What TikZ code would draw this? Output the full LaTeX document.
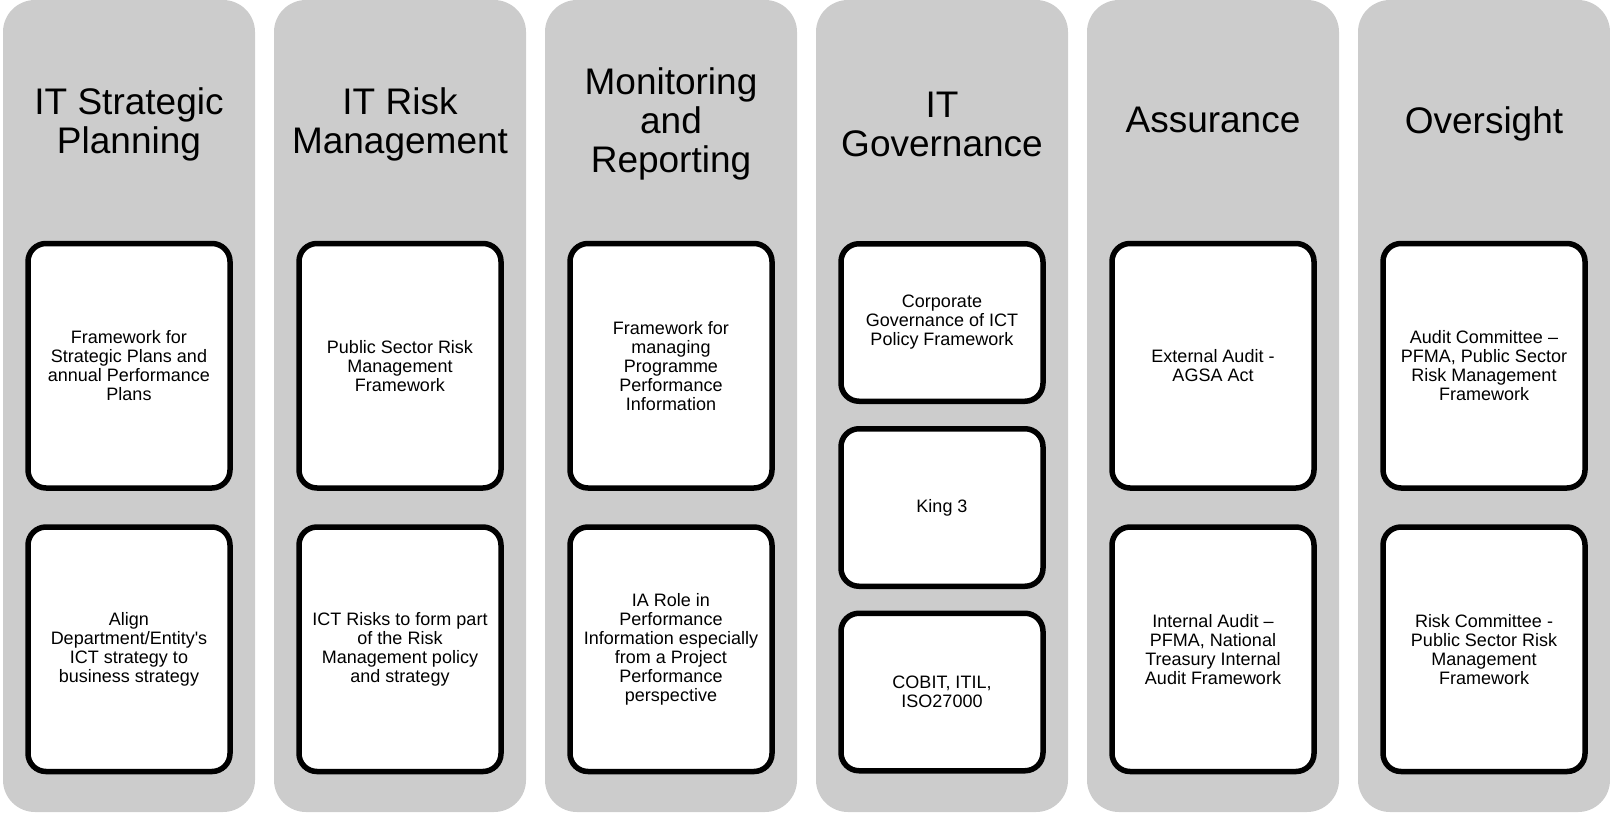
\documentclass[tikz,border=0pt]{standalone}
\usepackage{fontspec}
\setmainfont{Liberation Sans}
\definecolor{colgray}{HTML}{CCCCCC}
\begin{document}
\begin{tikzpicture}[x=1pt,y=-1pt,
  lane/.style={fill=colgray,draw=none,rounded corners=32pt,minimum width=252pt,minimum height=812pt,inner sep=0pt,outer sep=0pt,anchor=north west},
  card/.style={fill=white,draw=black,line width=5.5pt,rounded corners=18pt,minimum width=202pt,inner sep=2pt,align=center,font=\fontsize{18}{19}\selectfont},
  tall/.style={card,minimum height=244.5pt},
  short/.style={card,minimum height=157.5pt},
  head/.style={align=center,font=\fontsize{37}{39}\selectfont,inner sep=0pt}]
\useasboundingbox (0,0) rectangle (1610,812);
% lanes
\foreach \i/\n in {0/c1,1/c2,2/c3,3/c4,4/c5,5/c6}{
  \node[lane] (\n) at ({3+271*\i},0) {};
}
% titles
\node[head] (t1) at (c1.center |- 0,124) {IT Strategic\\Planning};
\node[head] (t2) at (c2.center |- 0,124) {IT Risk\\Management};
\node[head] (t3) at (c3.center |- 0,124) {Monitoring\\and\\Reporting};
\node[head] (t4) at (c4.center |- 0,124) {IT\\Governance};
\node[head] (t5) at (c5.center |- 0,120) {Assurance};
\node[head] (t6) at (c6.center |- 0,123.5) {Oversight};
% cards
\node[tall] (b11) at (c1.center |- 0,365.75) {Framework for\\Strategic Plans and\\annual Performance\\Plans};
\node[tall] (b12) at (c1.center |- 0,649.25) {Align\\Department/Entity\textquotesingle s\\ICT strategy to\\business strategy};
\node[tall] (b21) at (c2.center |- 0,365.75) {Public Sector Risk\\Management\\Framework};
\node[tall] (b22) at (c2.center |- 0,649.25) {ICT Risks to form part\\of the Risk\\Management policy\\and strategy};
\node[tall] (b31) at (c3.center |- 0,365.75) {Framework for\\managing\\Programme\\Performance\\Information};
\node[tall] (b32) at (c3.center |- 0,649.25) {IA Role in\\Performance\\Information especially\\from a Project\\Performance\\perspective};
\node[short] (b41) at (c4.center |- 0,322.5) {Corporate\\Governance of ICT\\Policy Framework};
\node[short] (b42) at (c4.center |- 0,507.5) {King 3};
\node[short] (b43) at (c4.center |- 0,692) {COBIT, ITIL,\\ISO27000};
\node[tall] (b51) at (c5.center |- 0,365.75) {External Audit -\\AGSA Act};
\node[tall] (b52) at (c5.center |- 0,649.25) {Internal Audit --\\PFMA, National\\Treasury Internal\\Audit Framework};
\node[tall] (b61) at (c6.center |- 0,365.75) {Audit Committee --\\PFMA, Public Sector\\Risk Management\\Framework};
\node[tall] (b62) at (c6.center |- 0,649.25) {Risk Committee -\\Public Sector Risk\\Management\\Framework};
\end{tikzpicture}
\end{document}
